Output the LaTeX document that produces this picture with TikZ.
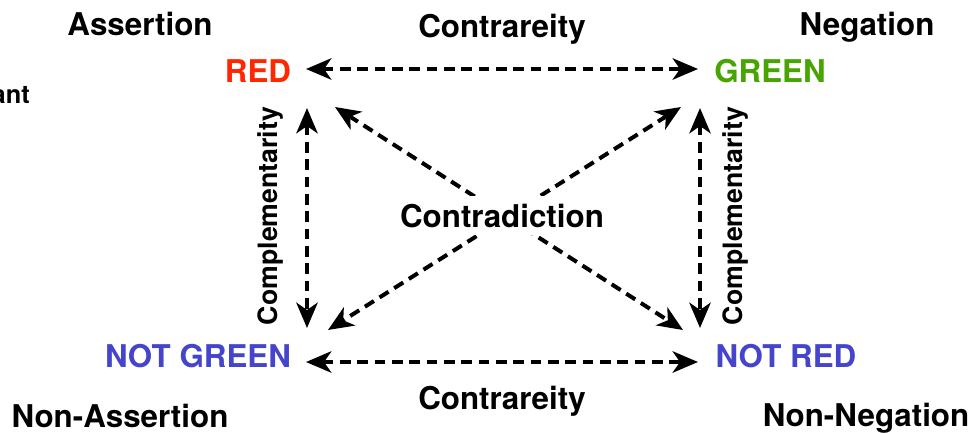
\documentclass[tikz,border=0pt]{standalone}
\usepackage{fontspec}
\setmainfont{TeX Gyre Heros}
\usetikzlibrary{arrows.meta}

\definecolor{redterm}{RGB}{255,38,0}
\definecolor{greenterm}{RGB}{70,165,0}
\definecolor{blueterm}{RGB}{68,68,204}

\begin{document}
\begin{tikzpicture}
[
	x=0.75pt, y=-0.75pt,
	lbl/.style={font=\fontsize{23.5}{28}\selectfont\bfseries, inner sep=0pt, anchor=base},
	cutlbl/.style={font=\bfseries\fontsize{19}{23}\selectfont, inner sep=0pt, anchor=base east},
	sidelbl/.style={font=\fontsize{20}{24}\selectfont\bfseries, inner sep=0pt, anchor=base, rotate=90},
	tip/.tip={Stealth[length=19pt,width=16pt,inset=5.5pt]},
	dasharrow/.style={tip-tip, line width=3pt, dash pattern=on 8pt off 5pt},
]
	\useasboundingbox (0,0) rectangle (973,432);

	% corner labels
	\node[lbl] (assertion) at (140,35) {Assertion};
	\node[lbl] (negation) at (867,35) {Negation};
	\node[lbl] (nonassertion) at (120,427) {Non-Assertion};
	\node[lbl] (nonnegation) at (866,426) {Non-Negation};
	\node[cutlbl] (cut) at (30,103) {ant};

	% terms
	\node[lbl, redterm] (red) at (258,82) {RED};
	\node[lbl, greenterm] (green) at (770,82) {GREEN};
	\node[lbl, blueterm] (notgreen) at (198,367) {NOT GREEN};
	\node[lbl, blueterm] (notred) at (786,367) {NOT RED};

	% arrow ends
	\coordinate (red-e) at (306,69);
	\coordinate (green-w) at (698,69);
	\coordinate (notgreen-e) at (306,362);
	\coordinate (notred-w) at (698,362);
	\coordinate (red-s) at (307,108);
	\coordinate (notgreen-n) at (307,328);
	\coordinate (green-s) at (700,108);
	\coordinate (notred-n) at (700,328);
	\coordinate (red-se) at (335,107);
	\coordinate (notred-nw) at (683,330);
	\coordinate (green-sw) at (681,107);
	\coordinate (notgreen-ne) at (328,330);

	% relations
	\foreach \a/\b in {red-e/green-w, notgreen-e/notred-w, red-s/notgreen-n,
		green-s/notred-n, red-se/notred-nw, green-sw/notgreen-ne}
		\draw[dasharrow] (\a) -- (\b);

	\node[lbl] (contrtop) at (502,37) {Contrareity};
	\node[lbl] (contrbot) at (502,409) {Contrareity};
	\node[lbl, fill=white, inner sep=6pt] (contradiction) at (502,227) {Contradiction};
	\node[sidelbl] (compleft) at (277,216) {Complementarity};
	\node[sidelbl] (compright) at (742,216) {Complementarity};

\end{tikzpicture}
\end{document}
